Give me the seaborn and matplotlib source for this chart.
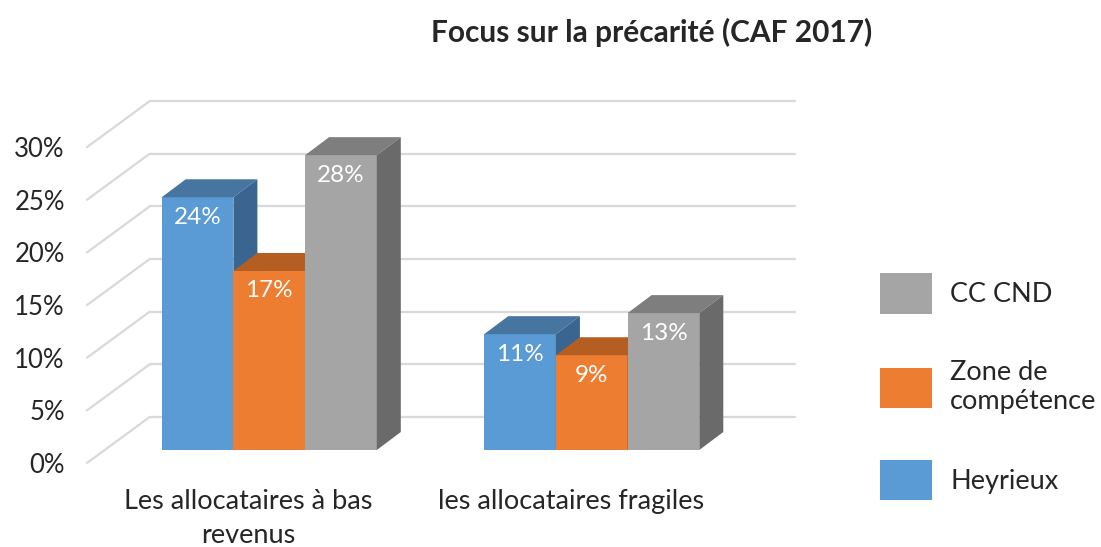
import matplotlib
matplotlib.use("Agg")
import matplotlib.pyplot as plt
import seaborn as sns
import pandas as pd
import numpy as np
from matplotlib.transforms import ScaledTranslation
from matplotlib.patches import Polygon, Patch
from matplotlib.lines import Line2D

# ---------------- data ----------------
categories = ["Les allocataires à bas\nrevenus", "les allocataires fragiles"]
series = ["Heyrieux", "Zone de compétence", "CC CND"]
heyrieux = [24, 11]
zone_competence = [17, 9]
cc_cnd = [28, 13]
yticks = [0, 5, 10, 15, 20, 25, 30]
ytick_labels = ["0%", "5%", "10%", "15%", "20%", "25%", "30%"]
title = "Focus sur la précarité (CAF 2017)"

front_colors = ["#5B9BD5", "#ED7D31", "#A5A5A5"]
top_colors = ["#4675A0", "#B55E22", "#7E7E7E"]
side_colors = ["#3A6590", "#9C511C", "#6A6A6A"]
grid_color = "#D9D9D9"

df = pd.DataFrame({
    "cat": categories * 3,
    "series": [series[0]] * 2 + [series[1]] * 2 + [series[2]] * 2,
    "val": heyrieux + zone_competence + cc_cnd,
})

sns.set_style("white")
plt.rcParams['font.family'] = ['Lato', 'DejaVu Sans']

W, H = 1101, 547
DPI = 100
fig = plt.figure(figsize=(W / DPI, H / DPI), dpi=DPI)

# front plane of the plot box
x0_px, x1_px = 87, 732
y0_px = 463           # image y of 0 %
px_per_unit = 10.53   # pixels per percent
ymax = 35
ax = fig.add_axes([x0_px / W, (H - y0_px) / H, (x1_px - x0_px) / W, ymax * px_per_unit / H])

sns.barplot(data=df, x="cat", y="val", hue="series", hue_order=series,
            order=categories, palette=front_colors, saturation=1, width=0.667,
            ax=ax, legend=False, errorbar=None)
ax.set_xlim(-0.5, 1.5)
ax.set_ylim(0, ymax)

# depth offsets (pixels) for the 3D look
WALL_DX, WALL_DY = 62.7, 46.0


def px_off(dx, dy):
    return ScaledTranslation(dx / DPI, dy / DPI, fig.dpi_scale_trans)


to_fig = fig.transFigure.inverted()

# back wall gridlines + left wall diagonals
for t in yticks:
    ax.plot([-0.5, 1.5], [t, t], color=grid_color, lw=1.6,
            transform=ax.transData + px_off(WALL_DX, WALL_DY), clip_on=False, zorder=0.5)
    p0 = ax.transData.transform((-0.5, t))
    p1 = p0 + np.array([WALL_DX, WALL_DY])
    f0, f1 = to_fig.transform(p0), to_fig.transform(p1)
    fig.add_artist(Line2D([f0[0], f1[0]], [f0[1], f1[1]], color=grid_color,
                          lw=1.6, transform=fig.transFigure, zorder=0.5))

# bar front faces sit a little behind the front plane (perspective shift)
FRONT_DX, FRONT_DY = 21.0, 13.0
BAR_DX, BAR_DY = 24.0, 18.0
front_tr = ax.transData + px_off(FRONT_DX, FRONT_DY)
inv = ax.transData.inverted()

for i, cont in enumerate(ax.containers):
    z = 3 + i
    for rect in cont.patches:
        rect.set_transform(front_tr)
        rect.set_zorder(z)
        rect.set_linewidth(0)
        rect.set_clip_on(False)
        x, w, h = rect.get_x(), rect.get_width(), rect.get_height()
        fl = front_tr.transform((x, h))
        fr = front_tr.transform((x + w, h))
        br = front_tr.transform((x + w, 0))
        off = np.array([BAR_DX, BAR_DY])
        top = np.array([fl, fr, fr + off, fl + off])
        side = np.array([br, fr, fr + off, br + off])
        ax.add_patch(Polygon(inv.transform(top), closed=True, facecolor=top_colors[i],
                             edgecolor="none", zorder=z, clip_on=False))
        ax.add_patch(Polygon(inv.transform(side), closed=True, facecolor=side_colors[i],
                             edgecolor="none", zorder=z, clip_on=False))
        ax.text(x + w / 2, h, f"{h:.0f}%", color="white", fontsize=17.5,
                ha="center", va="center", zorder=z + 0.5,
                transform=front_tr + px_off(0, -20))

# axes cosmetics
ax.set_yticks(yticks)
ax.set_yticklabels(ytick_labels)
ax.tick_params(axis="y", length=0, pad=16, labelsize=18.5)
ax.tick_params(axis="x", length=0, pad=19, labelsize=19.5)
for lab in ax.get_xticklabels():
    lab.set_linespacing(1.45)
ax.set_xlabel("")
ax.set_ylabel("")
ax.grid(False)
for s in ax.spines.values():
    s.set_visible(False)
ax.patch.set_alpha(0)

# legend (reversed order)
handles = [Patch(facecolor=front_colors[i], edgecolor="none") for i in [2, 1, 0]]
labels = ["CC CND", "Zone de\ncompétence", "Heyrieux"]
fig.legend(handles, labels, loc="upper left", bbox_to_anchor=(880 / W, 1 - 273 / H),
           frameon=False, fontsize=19.5, handlelength=1.93, handleheight=1.93,
           handletextpad=0.66, labelspacing=1.7, borderpad=0, borderaxespad=0)

fig.text(652 / W, 1 - 32 / H, title, ha="center", va="center",
         fontsize=21.5, fontweight="bold")

fig.savefig("out.png", dpi=DPI)
